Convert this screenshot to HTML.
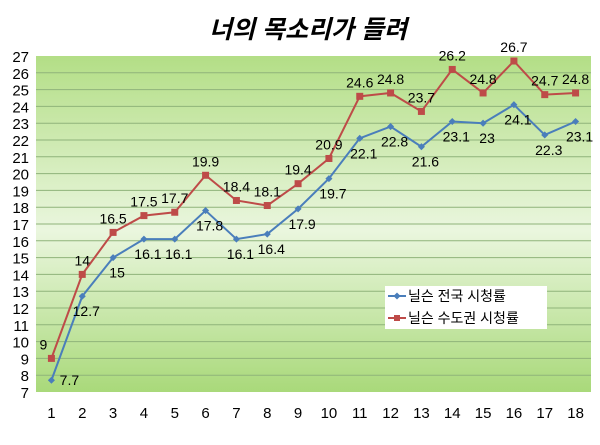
<!DOCTYPE html>
<html><head><meta charset="utf-8"><style>
body{margin:0;background:#fff;width:600px;height:440px;overflow:hidden}
text{font-family:"Liberation Sans","Noto Sans CJK KR",sans-serif}
</style></head><body>
<svg id="c" width="600" height="440">
<defs><linearGradient id="g" x1="0" y1="0" x2="0" y2="1">
<stop offset="0" stop-color="#b3de86"/><stop offset="0.52" stop-color="#eaf6de"/><stop offset="1" stop-color="#a9d97a"/>
</linearGradient></defs>
<text x="308" y="38" text-anchor="middle" font-size="25" font-weight="bold" font-style="italic">너의 목소리가 들려</text>
<rect x="36" y="56" width="555" height="336" fill="url(#g)"/>
<g id="grid"></g><g id="ax"></g><g id="ser"></g>
<g>
<rect x="385" y="286" width="162" height="43" fill="#fff"/>
<line x1="388" y1="296" x2="406" y2="296" stroke="#4a7ebb" stroke-width="2"/><rect x="394.5" y="293.5" width="5" height="5" fill="#4a7ebb" transform="rotate(45 397 296)"/>
<text x="408" y="301" font-size="14">닐슨 전국 시청률</text>
<line x1="388" y1="318" x2="406" y2="318" stroke="#be4b48" stroke-width="2"/><rect x="394" y="315" width="6" height="6" fill="#be4b48"/>
<text x="408" y="323" font-size="14">닐슨 수도권 시청률</text>
</g>
</svg>
<script>
const categories=[1,2,3,4,5,6,7,8,9,10,11,12,13,14,15,16,17,18];
const national=[7.7,12.7,15,16.1,16.1,17.8,16.1,16.4,17.9,19.7,22.1,22.8,21.6,23.1,23,24.1,22.3,23.1];
const capital=[9,14,16.5,17.5,17.7,19.9,18.4,18.1,19.4,20.9,24.6,24.8,23.7,26.2,24.8,26.7,24.7,24.8];
const yTicks=[7,8,9,10,11,12,13,14,15,16,17,18,19,20,21,22,23,24,25,26,27];
const NS="http://www.w3.org/2000/svg";
const L=36,R=591,T=56,B=392,ymin=7,ymax=27;
const x=i=>L+(i+0.5)*(R-L)/categories.length;
const y=v=>B-(v-ymin)/(ymax-ymin)*(B-T);
function mk(tag,attrs,parent,txt){const e=document.createElementNS(NS,tag);for(const k in attrs)e.setAttribute(k,attrs[k]);if(txt!==undefined)e.textContent=txt;document.getElementById(parent).appendChild(e);return e;}
yTicks.forEach(v=>{
 if(v>ymin&&v<ymax){const g=mk('line',{x1:L,x2:R,y1:y(v),y2:y(v),stroke:'#8fb37a','stroke-width':1},'grid');
 
 }
 const t=mk('text',{x:29,y:y(v)+6,'text-anchor':'end','font-size':15},'ax',String(v));
 
 
});
categories.forEach((c,i)=>{
 const t=mk('text',{x:x(i),y:418,'text-anchor':'middle','font-size':15},'ax',String(c));
 
 
});
function series(vals,color,name,marker,dy){
 const pl=mk('polyline',{points:vals.map((v,i)=>x(i)+','+y(v)).join(' '),fill:'none',stroke:color,'stroke-width':2},'ser');
 
 
 vals.forEach((v,i)=>{
  let m;
  if(marker==='sq'){m=mk('rect',{x:x(i)-3.5,y:y(v)-3.5,width:7,height:7,fill:color},'ser');}
  else{m=mk('rect',{x:x(i)-2.5,y:y(v)-2.5,width:5,height:5,fill:color,transform:'rotate(45 '+x(i)+' '+y(v)+')'},'ser');}
  
  
  const t=mk('text',{x:x(i)+(i===0?(marker==='sq'?-8:18):(marker==='sq'?0:4)),y:y(v)+(i===0&&marker!=='sq'?5:dy),'text-anchor':'middle','font-size':14},'ser',String(v));
  
  
 });
}
series(national,'#4a7ebb','national','dia',20);
series(capital,'#be4b48','capital','sq',-9);
</script>
</body></html>
